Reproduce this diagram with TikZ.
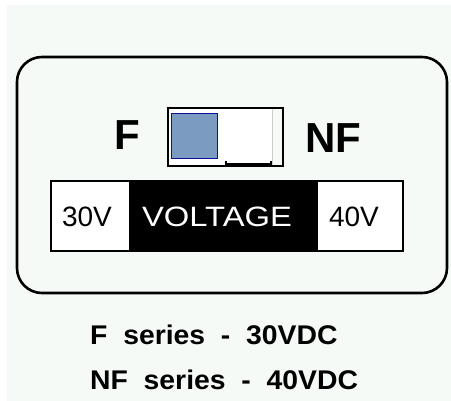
\documentclass[tikz,border=0pt]{standalone}
\usepackage{fontspec}
\setmainfont{Liberation Sans}
\definecolor{bgc}{HTML}{F5FAF7}
\definecolor{swfill}{HTML}{7B9BC0}
\definecolor{swedge}{HTML}{10109A}
\tikzset{
  lbl/.style={inner sep=0pt, anchor=base},
  big/.style={lbl, font=\fontsize{42}{42}\selectfont\bfseries},
  mid/.style={lbl, font=\fontsize{28}{28}\selectfont},
  low/.style={lbl, anchor=base west, font=\fontsize{27}{27}\selectfont\bfseries},
}
\begin{document}
\begin{tikzpicture}[x=1pt,y=-1pt]
\useasboundingbox (0,0) rectangle (451,401);
\fill[white] (0,0) rectangle (451,401);
\fill[bgc] (7,5) rectangle (451,401);
% outer panel
\draw[line width=2.6pt, rounded corners=25pt] (17,57) rectangle (447,293);
% switch
\fill[white] (168,108) rectangle (272,166);
\draw[gray!40, line width=0.5pt] (272,109) -- (272,165);
\draw[line width=1.6pt] (168,108) rectangle (283,166);
\node[draw=swedge, fill=swfill, line width=1.8pt, minimum width=46pt, minimum height=45pt, inner sep=0pt] (knob) at (194.5,136) {};
\draw[line width=1.4pt] (226,161) -- (226,164) -- (271,164) -- (271,161);
\node[big] (f) at (127,150) {F};
\node[big] (nf) at (333,153) {NF};
% voltage strip
\fill[white] (51,181) rectangle (403,251);
\fill[black] (129,181) rectangle (318,251);
\draw[line width=1.3pt] (51,181) rectangle (403,251);
\node[mid] (v30) at (87,227) {30V};
\node[mid, text=white] (volt) at (217,227) {\scalebox{1.17}[1]{VOLTAGE}};
\node[mid] (v40) at (354,227) {40V};
% legend
\node[low] (l1) at (90,345) {\scalebox{1.05}[1]{F\ \ series\ \ -\ \ 30VDC}};
\node[low] (l2) at (90,390) {\scalebox{1.05}[1]{NF\ \ series\ \ -\ \ 40VDC}};
\end{tikzpicture}
\end{document}
